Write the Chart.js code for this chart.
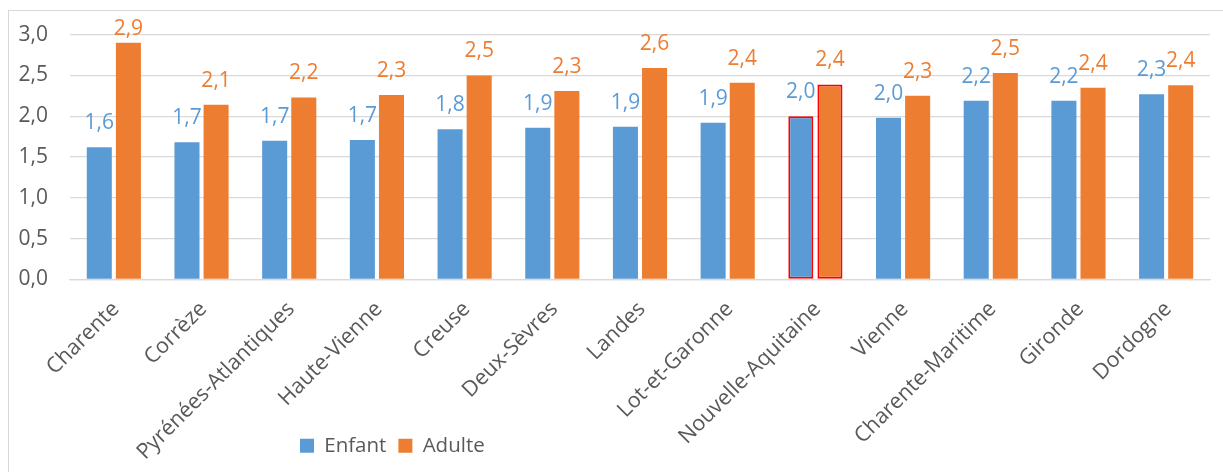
<!DOCTYPE html>
<html lang="fr">
<head>
<meta charset="utf-8">
<title>Enfant / Adulte</title>
<script src="https://cdn.jsdelivr.net/npm/chart.js@4.4.1/dist/chart.umd.min.js"></script>
<style>
  html, body { margin: 0; padding: 0; background: #fff; }
  #wrap { position: relative; width: 1223px; height: 472px; }
  #frame {
    position: absolute; left: 8px; top: 10px; right: -2px; bottom: -2px;
    border-left: 1px solid #d9d9d9; border-top: 1px solid #d9d9d9;
    pointer-events: none;
  }
  canvas { position: absolute; left: 0; top: 0; }
</style>
</head>
<body>
<div id="wrap">
  <canvas id="chart" width="1223" height="472"></canvas>
  <div id="frame"></div>
</div>
<script>
// départements
const categories = [
  "Charente", "Corrèze", "Pyrénées-Atlantiques", "Haute-Vienne", "Creuse",
  "Deux-Sèvres", "Landes", "Lot-et-Garonne", "Nouvelle-Aquitaine", "Vienne",
  "Charente-Maritime", "Gironde", "Dordogne",
];
// valeurs
const enfant = [1.62, 1.68, 1.70, 1.71, 1.84, 1.86, 1.87, 1.92, 2.00, 1.98, 2.19, 2.19, 2.27];
const adulte = [2.90, 2.14, 2.23, 2.26, 2.50, 2.31, 2.59, 2.41, 2.39, 2.25, 2.53, 2.35, 2.38];
const yTicks = [0, 0.5, 1, 1.5, 2, 2.5, 3];

const BLUE = "#5b9bd5";
const ORANGE = "#ed7d31";
const GREY = "#595959";
const FONT = "'Open Sans', sans-serif";

const fmt = (v) => v.toFixed(1).replace(".", ",");
const highlight = (c) => (c === "Nouvelle-Aquitaine" ? 2 : 0);

// étiquettes de valeur au-dessus des barres
const valueLabels = {
  id: "valueLabels",
  afterDatasetsDraw(chart) {
    const ctx = chart.ctx;
    ctx.save();
    ctx.font = "21px " + FONT;
    ctx.textAlign = "center";
    ctx.textBaseline = "middle";
    chart.data.datasets.forEach((ds, i) => {
      chart.getDatasetMeta(i).data.forEach((bar, j) => {
        ctx.fillStyle = ds.backgroundColor;
        ctx.fillText(fmt(ds.data[j]), bar.x, Math.max(bar.y - 24, 29));
      });
    });
    ctx.restore();
  },
};

// légende décalée vers la gauche, libellés de l'axe x non coupés
const legendShift = {
  id: "legendShift",
  afterLayout(chart) {
    const lg = chart.legend;
    const w = lg.width;
    lg.left = 288;
    lg.right = 288 + w;
    chart.scales.x.bottom = chart.height;
  },
};

new Chart(document.getElementById("chart"), {
  type: "bar",
  data: {
    labels: categories,
    datasets: [
      {
        label: "Enfant",
        data: enfant,
        backgroundColor: BLUE,
        borderColor: "#ff0000",
        borderWidth: categories.map(highlight),
        borderSkipped: false,
      },
      {
        label: "Adulte",
        data: adulte,
        backgroundColor: ORANGE,
        borderColor: "#ff0000",
        borderWidth: categories.map(highlight),
        borderSkipped: false,
      },
    ],
  },
  plugins: [valueLabels, legendShift],
  options: {
    responsive: false,
    animation: false,
    devicePixelRatio: 1,
    categoryPercentage: 0.664,
    barPercentage: 0.86,
    layout: { padding: { top: 22, left: 10, right: 13, bottom: 6 } },
    scales: {
      y: {
        min: 0,
        max: 3,
        afterFit(scale) { scale.width = 60; },
        afterBuildTicks(scale) { scale.ticks = yTicks.map((v) => ({ value: v })); },
        grid: { color: "#d9d9d9", lineWidth: 1.3, drawTicks: false },
        border: { display: false },
        ticks: {
          padding: 22,
          color: GREY,
          font: { family: FONT, size: 21 },
          callback: (v) => fmt(v),
        },
      },
      x: {
        afterFit(scale) { scale.height = 144; },
        grid: { display: false },
        border: { color: "#d9d9d9", width: 1.3 },
        ticks: {
          minRotation: 45,
          maxRotation: 45,
          autoSkip: false,
          padding: 9,
          labelOffset: 2,
          color: GREY,
          font: { family: FONT, size: 21.5 },
        },
      },
    },
    plugins: {
      legend: {
        position: "bottom",
        align: "start",
        labels: {
          boxWidth: 14,
          boxHeight: 14,
          padding: 12,
          color: GREY,
          font: { family: FONT, size: 20.5 },
        },
      },
      tooltip: { enabled: false },
    },
  },
});
</script>
</body>
</html>
